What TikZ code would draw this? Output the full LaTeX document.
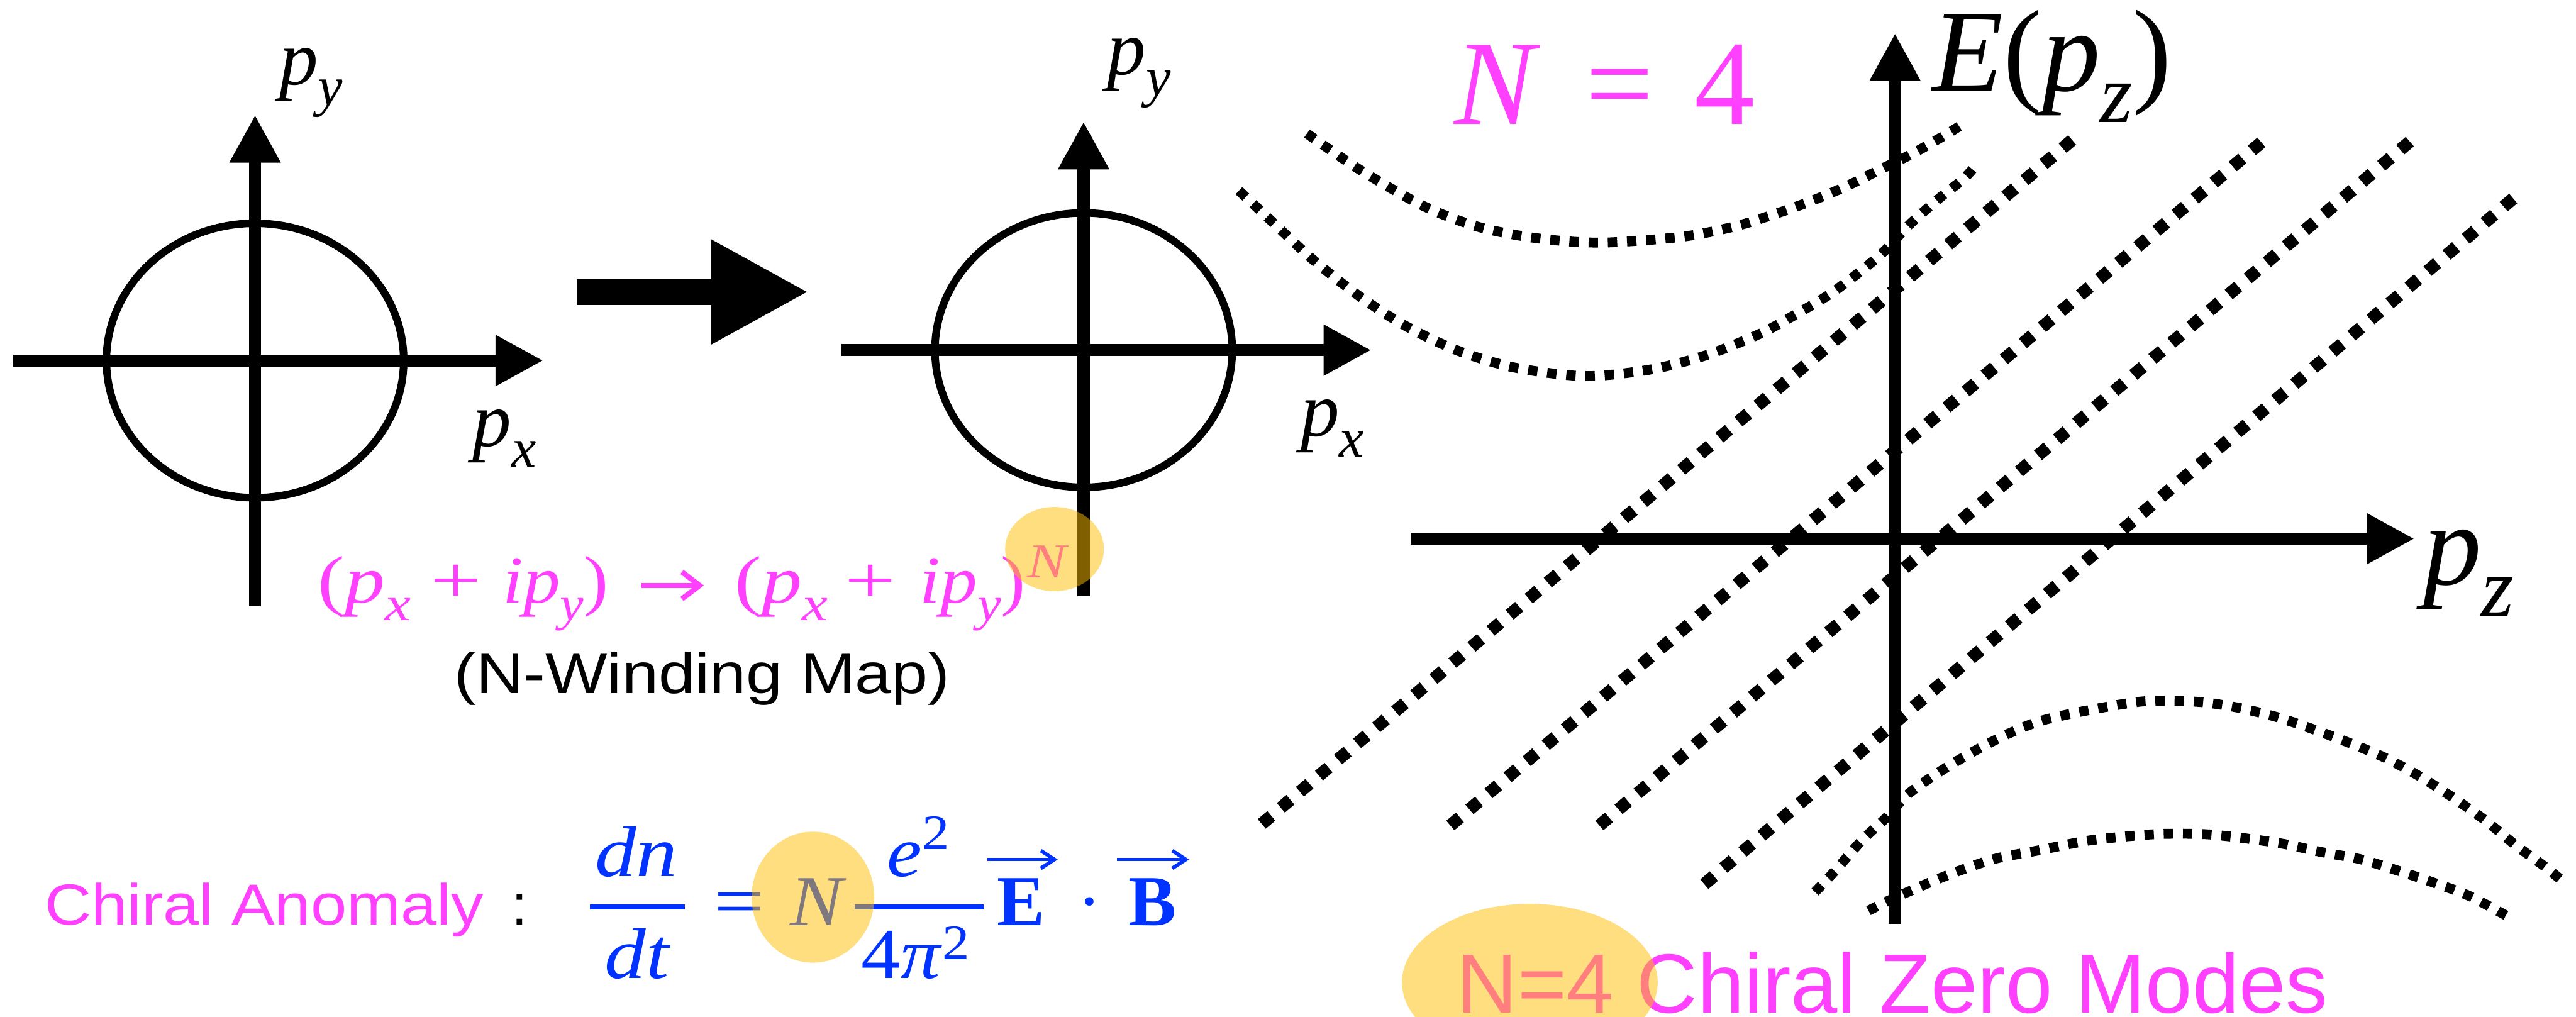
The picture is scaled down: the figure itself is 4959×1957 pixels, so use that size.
\documentclass[tikz,border=0pt]{standalone}
\usepackage{graphicx}
\usepackage{fontspec}
\setmainfont{Liberation Serif}
\newfontfamily\hsans{Liberation Sans}
\usetikzlibrary{arrows.meta}
\definecolor{mag}{RGB}{255,64,255}
\definecolor{fblue}{RGB}{0,51,255}
\definecolor{hiyel}{RGB}{255,190,0}
\newcommand\lsub[1]{\raisebox{-0.27em}{\scalebox{0.72}{#1}}}
\begin{document}
\begin{tikzpicture}[x=0.01cm,y=-0.01cm,
  axis/.style={line width=0.235cm,-{Triangle[length=0.92cm,width=0.92cm]}},
  ring/.style={line width=0.145cm},
  bigarrow/.style={line width=0.5cm,-{Triangle[length=1.88cm,width=1.88cm]}},
  zmode/.style={line width=0.24cm,dash pattern=on 0.24cm off 0.24cm},
  lband/.style={line width=0.19cm,dash pattern=on 0.18cm off 0.19cm},
  txt/.style={inner sep=0pt,outer sep=0pt},
  lab/.style={txt,font=\fontsize{42.4pt}{50pt}\selectfont},
  biglab/.style={txt,font=\fontsize{63.7pt}{70pt}\selectfont},
  magf/.style={txt,text=mag,font=\fontsize{36.7pt}{40pt}\selectfont},
  maparrow/.style={mag,line width=0.1cm,-{Straight Barb[length=0.34cm,width=0.52cm]}},
  bluef/.style={txt,text=fblue,font=\fontsize{39.3pt}{44pt}\selectfont},
  vecar/.style={fblue,line width=0.07cm,-{Straight Barb[length=0.26cm,width=0.34cm]}},
  fbar/.style={fblue,line width=0.1cm},
  hilite/.style={fill=hiyel,fill opacity=0.5,draw=none}]
\useasboundingbox (0,0) rectangle (4959,1957);
\fill[white] (0,0) rectangle (4959,1957);

% ---------- dotted bands (right panel) ----------
\draw[lband] plot[smooth] coordinates {(2516,257) (2615,325) (2739,396) (2847,437) (2962,459) (3083,467) (3236,456) (3335,437) (3405,416) (3479,390) (3549,361) (3612,330) (3683,295) (3746,259) (3772,243)};
\draw[lband] plot[smooth] coordinates {(2385,367) (2446,424) (2529,501) (2618,571) (2707,628) (2809,676) (2918,708) (3052,724) (3179,711) (3287,683) (3389,642) (3459,604) (3523,566) (3587,518) (3632,479) (3676,432) (3734,381) (3778,346) (3797,326)};
\draw[lband] plot[smooth] coordinates {(3494,1717) (3533,1676) (3584,1618) (3629,1576) (3674,1528) (3738,1483) (3802,1445) (3867,1412) (3931,1387) (4021,1367) (4117,1351) (4180,1349) (4242,1352) (4307,1362) (4382,1380) (4451,1403) (4520,1429) (4590,1458) (4659,1495) (4723,1536) (4784,1579) (4844,1628) (4896,1666) (4932,1695)};
\draw[lband] plot[smooth] coordinates {(3597,1753) (3635,1734) (3700,1705) (3764,1679) (3841,1653) (3924,1637) (4021,1618) (4117,1608) (4174,1605) (4249,1606) (4324,1614) (4399,1625) (4468,1640) (4544,1654) (4613,1675) (4682,1698) (4752,1724) (4824,1762)};

\coordinate (z1a) at (2429,1586); \coordinate (z1b) at (4005,256);
\coordinate (z2a) at (2792,1589); \coordinate (z2b) at (4370,260);
\coordinate (z3a) at (3079,1589); \coordinate (z3b) at (4654,260);
\coordinate (z4a) at (3281,1702); \coordinate (z4b) at (4856,367);
\draw[zmode] (z1a) -- (z1b);
\draw[zmode] (z2a) -- (z2b);
\draw[zmode] (z3a) -- (z3b);
\draw[zmode] (z4a) -- (z4b);

% ---------- axes ----------
\coordinate (h1a) at (25,694);   \coordinate (h1b) at (1046,694);
\coordinate (v1a) at (491,1167); \coordinate (v1b) at (491,221);
\coordinate (h2a) at (1620,674); \coordinate (h2b) at (2640,674);
\coordinate (v2a) at (2086,1148);\coordinate (v2b) at (2086,234);
\coordinate (h3a) at (2716,1037);\coordinate (h3b) at (4648,1037);
\coordinate (v3a) at (3648,1778);\coordinate (v3b) at (3648,64);

\draw[ring] (491,694) ellipse [x radius=2.86cm,y radius=2.64cm];
\draw[ring] (2086,674) ellipse [x radius=2.86cm,y radius=2.64cm];
\draw[axis] (h1a) -- (h1b);
\draw[axis] (v1a) -- (v1b);
\draw[axis] (h2a) -- (h2b);
\draw[axis] (v2a) -- (v2b);
\draw[axis] (h3a) -- (h3b);
\draw[axis] (v3a) -- (v3b);

\coordinate (ba) at (1110,562); \coordinate (bb) at (1557,562);
\draw[bigarrow] (ba) -- (bb);

% ---------- axis labels ----------
\node[lab,anchor=base west] (py1) at (538,163) {\textit{p}\lsub{\textit{y}}};
\node[lab,anchor=base west] (px1) at (910,859) {\textit{p}\lsub{\textit{x}}};
\node[lab,anchor=base west] (py2) at (2132,144) {\textit{p}\lsub{\textit{y}}};
\node[lab,anchor=base west] (px2) at (2504,839) {\textit{p}\lsub{\textit{x}}};
\node[biglab,anchor=base west] (Ez) at (3720,175) {\textit{E}(\textit{p}\lsub{\textit{z}})};
\node[biglab,anchor=base west] (pz) at (4665,1125) {\textit{p}\lsub{\textit{z}}};

% ---------- N = 4 ----------
\node[txt,text=mag,font=\fontsize{66pt}{72pt}\selectfont,anchor=base west] (Nn) at (2800,239) {\textit{N}};
\node[txt,text=mag,font=\fontsize{66pt}{72pt}\selectfont,anchor=base] (Neq) at (3118,239) {=};
\node[txt,text=mag,font=\fontsize{66pt}{72pt}\selectfont,anchor=base] (N4) at (3320,239) {4};

% ---------- winding map formula ----------
\node[magf,anchor=base west] (m1) at (612,1160) {\scalebox{1.2}[1]{(\textit{p}\lsub{\textit{x}}}};
\node[magf,anchor=base west] (m2) at (829,1160) {\scalebox{1.35}[1]{+}};
\node[magf,anchor=base west] (m3) at (968,1160) {\scalebox{1.1}[1]{\textit{ip}\lsub{\textit{y}})}};
\coordinate (arA) at (1235,1127); \coordinate (arB) at (1355,1127);
\draw[maparrow] (arA) -- (arB);
\node[magf,anchor=base west] (m5) at (1415,1160) {\scalebox{1.2}[1]{(\textit{p}\lsub{\textit{x}}}};
\node[magf,anchor=base west] (m6) at (1627,1160) {\scalebox{1.35}[1]{+}};
\node[magf,anchor=base west] (m7) at (1771,1160) {\scalebox{1.1}[1]{\textit{ip}\lsub{\textit{y}})}};
\node[txt,text=mag,font=\fontsize{26.7pt}{30pt}\selectfont,anchor=base west] (m8) at (1978,1112) {\scalebox{1.2}[1]{\textit{N}}};

\node[txt,font=\hsans\fontsize{31.3pt}{36pt}\selectfont,anchor=base west] (wmap) at (875,1335) {\scalebox{1.147}[1]{(N-Winding Map)}};

% ---------- chiral anomaly ----------
\node[txt,text=mag,font=\hsans\fontsize{31.7pt}{36pt}\selectfont,anchor=base west] (ca) at (86,1780) {\scalebox{1.118}[1]{Chiral Anomaly}};
\node[txt,font=\hsans\fontsize{31.7pt}{36pt}\selectfont,anchor=base west] (col) at (985,1780) {:};

\node[bluef,anchor=base] (dn) at (1225,1687) {\scalebox{1.15}[1]{\textit{dn}}};
\node[bluef,anchor=base] (dt) at (1228,1883) {\scalebox{1.15}[1]{\textit{dt}}};
\draw[fbar] (1136,1746) -- (1319,1746);
\node[bluef,anchor=base] (eq) at (1423,1781) {\scalebox{1.25}[1]{=}};
\node[bluef,anchor=base] (fN) at (1575,1781) {\scalebox{1.1}[1]{\textit{N}}};
\draw[fbar] (1645,1746) -- (1893,1746);
\node[bluef,anchor=base west] (e2) at (1708,1687) {\scalebox{1.1}[1]{\textit{e}\raisebox{0.38em}{\scalebox{0.69}{2}}}};
\node[bluef,anchor=base west] (pi2) at (1658,1883) {\scalebox{1.1}[1]{4\textit{π}\raisebox{0.26em}{\scalebox{0.69}{2}}}};
\node[bluef,anchor=base west] (vE) at (1919,1781) {\textbf{E}};
\node[bluef,anchor=base] (cdot) at (2097,1781) {·};
\node[bluef,anchor=base west] (vB) at (2172,1781) {\textbf{B}};
\draw[vecar] ([xshift=-0.18cm,yshift=0.36cm]vE.north west) -- ([xshift=0.25cm,yshift=0.36cm]vE.north east);
\draw[vecar] ([xshift=-0.22cm,yshift=0.36cm]vB.north west) -- ([xshift=0.25cm,yshift=0.36cm]vB.north east);

% ---------- chiral zero modes ----------
\node[txt,text=mag,font=\hsans\fontsize{46pt}{52pt}\selectfont,anchor=base west] (czm) at (2805,1950) {N=4 Chiral Zero Modes};

% ---------- highlights ----------
\path[hilite] (2030,1057) ellipse [x radius=0.95cm,y radius=0.81cm];
\path[hilite] (1565,1727) ellipse [x radius=1.18cm,y radius=1.26cm];
\path[hilite] (2945,1891) ellipse [x radius=2.46cm,y radius=1.51cm];
\end{tikzpicture}
\end{document}
